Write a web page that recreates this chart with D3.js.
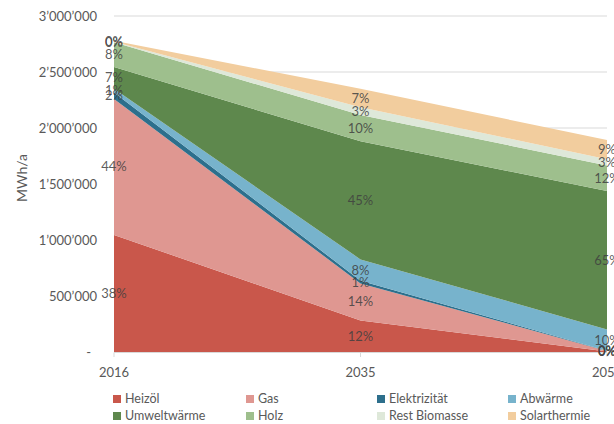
<!DOCTYPE html>
<html><head><meta charset="utf-8">
<script src="https://cdn.jsdelivr.net/npm/d3@7"></script>
<style>
html,body{margin:0;padding:0;background:#fff;}
svg{display:block;font-family:Lato,"Open Sans",sans-serif;}
</style></head>
<body><svg id="c" width="614" height="424"></svg>
<script>
const years = ["2016","2035","2050"];
const seriesNames = ["Heizöl","Gas","Elektrizität","Abwärme","Umweltwärme","Holz","Rest Biomasse","Solarthermie"];
const heizoel      = [1045000, 282000, 4000];
const gas          = [1215000, 330000, 6000];
const elektrizitaet= [58000, 25000, 2000];
const abwaerme     = [32000, 190000, 190000];
const umweltwaerme = [195000, 1055000, 1235000];
const holz         = [220000, 235000, 228000];
const restBiomasse = [5000, 68000, 57000];
const solarthermie = [10000, 165000, 171000];
const yTicks = [0, 500000, 1000000, 1500000, 2000000, 2500000, 3000000];
const colors = ["#C9574B","#DF9791","#2D6F8C","#77B3CC","#5E884D","#9EBF8D","#DEE8D9","#F2CD9E"];

const seriesVals = [heizoel,gas,elektrizitaet,abwaerme,umweltwaerme,holz,restBiomasse,solarthermie];
const rows = years.map((yr,i)=>{
  const r = {year: yr};
  seriesNames.forEach((n,k)=> r[n] = seriesVals[k][i]);
  return r;
});
const totals = rows.map(r => d3.sum(seriesNames, n => r[n]));

const svg = d3.select("#c");
const x = d3.scalePoint().domain(years).range([114, 607]);
const y = d3.scaleLinear().domain([0, 3000000]).range([352, 16]);

const fmt = v => v === 0 ? "-" : d3.format(",")(v).replace(/,/g, "\u2019");

// gridlines
svg.append("g").selectAll("line").data(yTicks.filter(t=>t>0)).join("line")
  .attr("x1", 114).attr("x2", 607)
  .attr("y1", d=>y(d)).attr("y2", d=>y(d))
  .attr("stroke", "#d9d9d9").attr("stroke-width", 1);

// y tick labels
svg.append("g").selectAll("text").data(yTicks).join("text")
  .attr("x", d => d===0 ? 91 : 97)
  .attr("y", d => y(d))
  .attr("dy", "0.35em")
  .attr("text-anchor", "end")
  .attr("font-size", 13)
  .attr("fill", "#595959")
  .text(fmt);

// y title
svg.append("text")
  .attr("transform", "translate(27,178) rotate(-90)")
  .attr("text-anchor", "middle")
  .attr("font-size", 14)
  .attr("fill", "#595959")
  .text("MWh/a");

// stacked areas
const stack = d3.stack().keys(seriesNames);
const layers = stack(rows);
const area = d3.area()
  .x(d => x(d.data.year))
  .y0(d => y(d[0]))
  .y1(d => y(d[1]));
svg.append("g").selectAll("path").data(layers).join("path")
  .attr("d", area)
  .attr("fill", (d,i) => colors[i]);

// x axis line & ticks
svg.append("line").attr("x1",114).attr("x2",607).attr("y1",352.5).attr("y2",352.5)
  .attr("stroke","#d9d9d9");
svg.append("g").selectAll("line").data(years).join("line")
  .attr("x1", d=>x(d)).attr("x2", d=>x(d))
  .attr("y1", 352.5).attr("y2", 357)
  .attr("stroke", "#d9d9d9");
svg.append("g").selectAll("text").data(years).join("text")
  .attr("x", d=>x(d)).attr("y", 377)
  .attr("text-anchor","middle")
  .attr("font-size", 13)
  .attr("fill","#595959")
  .text(d=>d);

// data labels
const lbl = svg.append("g");
layers.forEach((layer) => {
  layer.forEach((d, i) => {
    const pct = Math.round(100 * (d[1]-d[0]) / totals[i]);
    lbl.append("text")
      .attr("x", x(d.data.year))
      .attr("y", y((d[0]+d[1])/2))
      .attr("dy", "0.35em")
      .attr("text-anchor", "middle")
      .attr("font-size", 13)
      .attr("fill", "#404040")
      .attr("fill-opacity", 0.85)
      .text(pct + "%");
  });
});

// legend
const legX = [113, 246, 377, 508];
const legY = [399, 416];
const leg = svg.append("g");
seriesNames.forEach((n, k) => {
  const col = k % 4, row = Math.floor(k / 4);
  leg.append("rect")
    .attr("x", legX[col]).attr("y", legY[row]-4)
    .attr("width", 8).attr("height", 8)
    .attr("fill", colors[k]);
  leg.append("text")
    .attr("x", legX[col] + 12).attr("y", legY[row])
    .attr("dy", "0.35em")
    .attr("font-size", 12.5)
    .attr("fill", "#595959")
    .text(n);
});
</script></body></html>
